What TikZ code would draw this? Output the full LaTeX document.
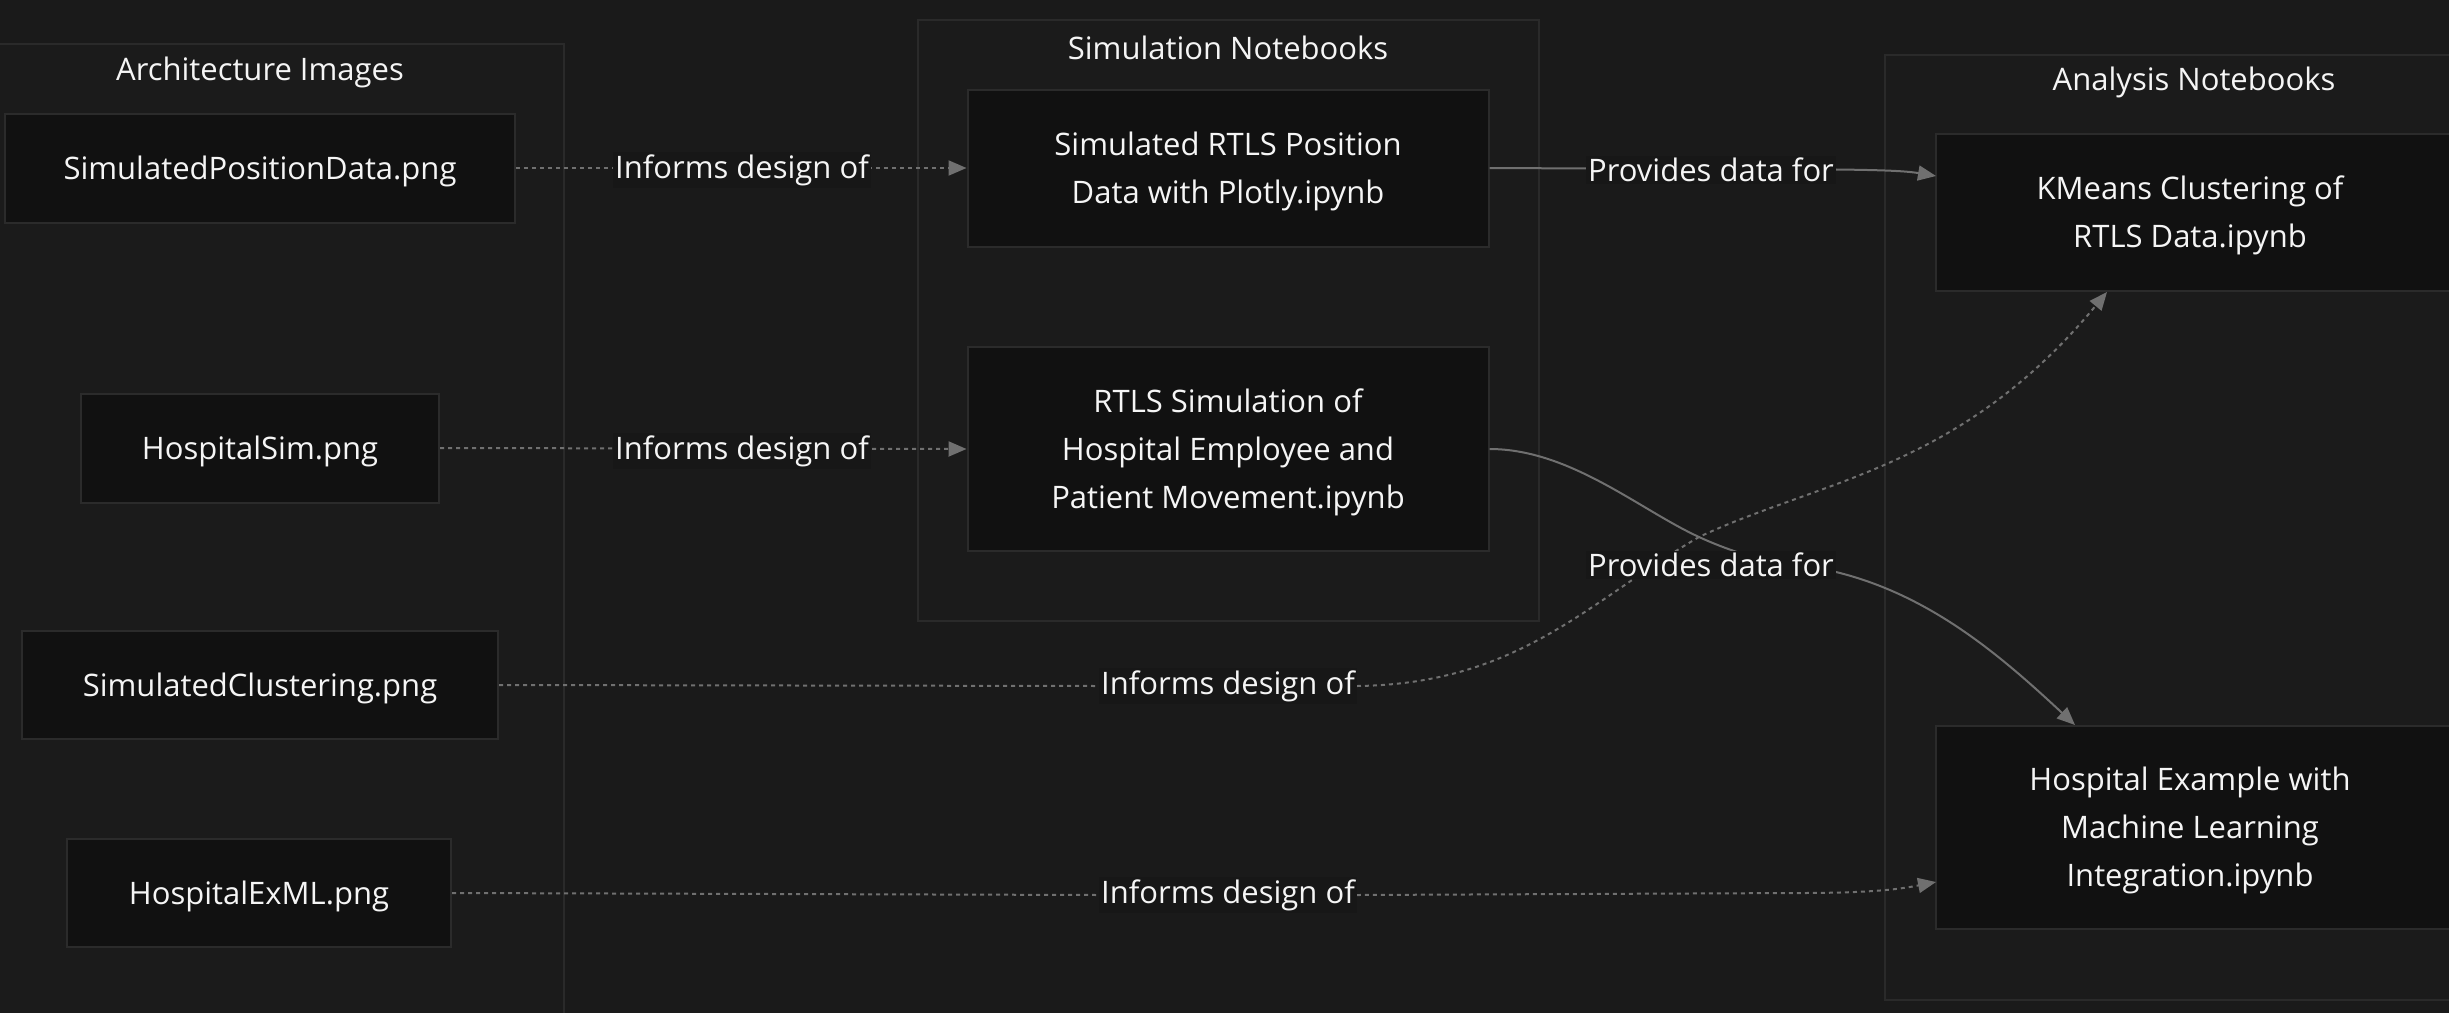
\documentclass[tikz,border=0pt]{standalone}
\usepackage{fontspec}
\setmainfont{Open Sans}
\usetikzlibrary{arrows.meta,calc}
\definecolor{bgc}{HTML}{1A1A1A}
\definecolor{clusterc}{HTML}{1B1B1B}
\definecolor{clusterb}{HTML}{2A2A2A}
\definecolor{nodef}{HTML}{111111}
\definecolor{nodeb}{HTML}{2B2B2B}
\definecolor{labbg}{HTML}{171717}
\definecolor{edgec}{HTML}{707070}
\definecolor{txt}{HTML}{F5F5F5}
\tikzset{
  box/.style={draw=nodeb, line width=2pt, fill=nodef, inner sep=0pt},
  btext/.style={text=txt, align=center, font=\fontsize{31}{48}\selectfont, inner sep=0pt, yshift=-3pt},
  cluster/.style={draw=clusterb, line width=1.5pt, fill=clusterc},
  ctitle/.style={text=txt, font=\fontsize{31}{36}\selectfont, inner sep=0pt},
  elab/.style={fill=labbg, text=txt, font=\fontsize{31}{36}\selectfont, inner sep=2pt},
  edge/.style={draw=edgec, line width=2pt},
  dedge/.style={edge, dash pattern=on 4pt off 4pt},
  tip/.style={-{Triangle[length=18pt,width=15pt]}},
}
\begin{document}
\begin{tikzpicture}[x=1pt,y=-1pt]
\useasboundingbox (0,0) rectangle (2449,1012);
\fill[bgc] (-20,-20) rectangle (2470,1030);
% clusters
\draw[cluster] (-10,44) rectangle (564,1040);
\draw[cluster] (918,20) rectangle (1539,621);
\draw[cluster] (1885,55) rectangle (2520,1000);
\node[ctitle] (tarch) at (260,72) {Architecture Images};
\node[ctitle] (tsim) at (1228,48) {Simulation Notebooks};
\node[ctitle] (tana) at (2194,82) {Analysis Notebooks};
% nodes
\node[box, minimum width=510pt, minimum height=109pt] (spd) at (260,168) {};
\node[btext] (spdt) at (spd.center) {SimulatedPositionData.png};
\node[box, minimum width=358pt, minimum height=109pt] (hsim) at (260,448) {};
\node[btext] (hsimt) at (hsim.center) {HospitalSim.png};
\node[box, minimum width=476pt, minimum height=108pt] (sclu) at (260,685) {};
\node[btext] (sclut) at (sclu.center) {SimulatedClustering.png};
\node[box, minimum width=384pt, minimum height=108pt] (hexml) at (259,893) {};
\node[btext] (hexmlt) at (hexml.center) {HospitalExML.png};
\node[box, minimum width=521pt, minimum height=157pt] (n1) at (1228,168) {};
\node[btext] (n1t) at (n1.center) {Simulated RTLS Position\\Data with Plotly.ipynb};
\node[box, minimum width=521pt, minimum height=204pt] (n2) at (1228,449) {};
\node[btext] (n2t) at (n2.center) {RTLS Simulation of\\Hospital Employee and\\Patient Movement.ipynb};
\node[box, minimum width=544pt, minimum height=157pt] (km) at (2208,212) {};
\node[btext, xshift=-18pt] (kmt) at (km.center) {KMeans Clustering of\\RTLS Data.ipynb};
\node[box, minimum width=544pt, minimum height=203pt] (hex) at (2208,827) {};
\node[btext, xshift=-18pt] (hext) at (hex.center) {Hospital Example with\\Machine Learning\\Integration.ipynb};
% anchor points
\coordinate (kmw) at (1936,176);
\coordinate (kms) at (2107,292);
\coordinate (hexn) at (2075,725);
\coordinate (hexw) at (1936,882);
% label nodes
\node[elab] (l1) at (742,170) {Informs design of};
\node[elab] (l2) at (742,451) {Informs design of};
\node[elab] (l3) at (1228,686) {Informs design of};
\node[elab] (l4) at (1228,895) {Informs design of};
% edges
\draw[dedge,tip] (spd.east) -- (n1.west);
\draw[dedge,tip] (hsim.east) -- (n2.west);
\draw[dedge,tip] (sclu.east) -- (l3.west) (l3.east) .. controls (1520,684) and (1590,600) .. (1699,537) .. controls (1820,480) and (1960,470) .. (kms);
\draw[dedge,tip] (hexml.east) -- (l4.west) (l4.east) -- (1800,893) .. controls (1880,893) and (1905,888) .. (hexw);
\draw[edge,tip] (n1.east) -- (1700,169) .. controls (1860,169) and (1900,170) .. (kmw);
\draw[edge,tip] (n2.east) .. controls (1570,449) and (1640,510) .. (1699,537) .. controls (1760,565) and (1800,565) .. (1836,572) .. controls (1930,595) and (2000,655) .. (hexn);
% labels on top
\node[elab] at (l1) {Informs design of};
\node[elab] at (l2) {Informs design of};
\node[elab] at (l3) {Informs design of};
\node[elab] at (l4) {Informs design of};
\node[elab] (l5) at (1711,170) {Provides data for};
\node[elab] (l6) at (1711,565) {Provides data for};
\end{tikzpicture}
\end{document}
